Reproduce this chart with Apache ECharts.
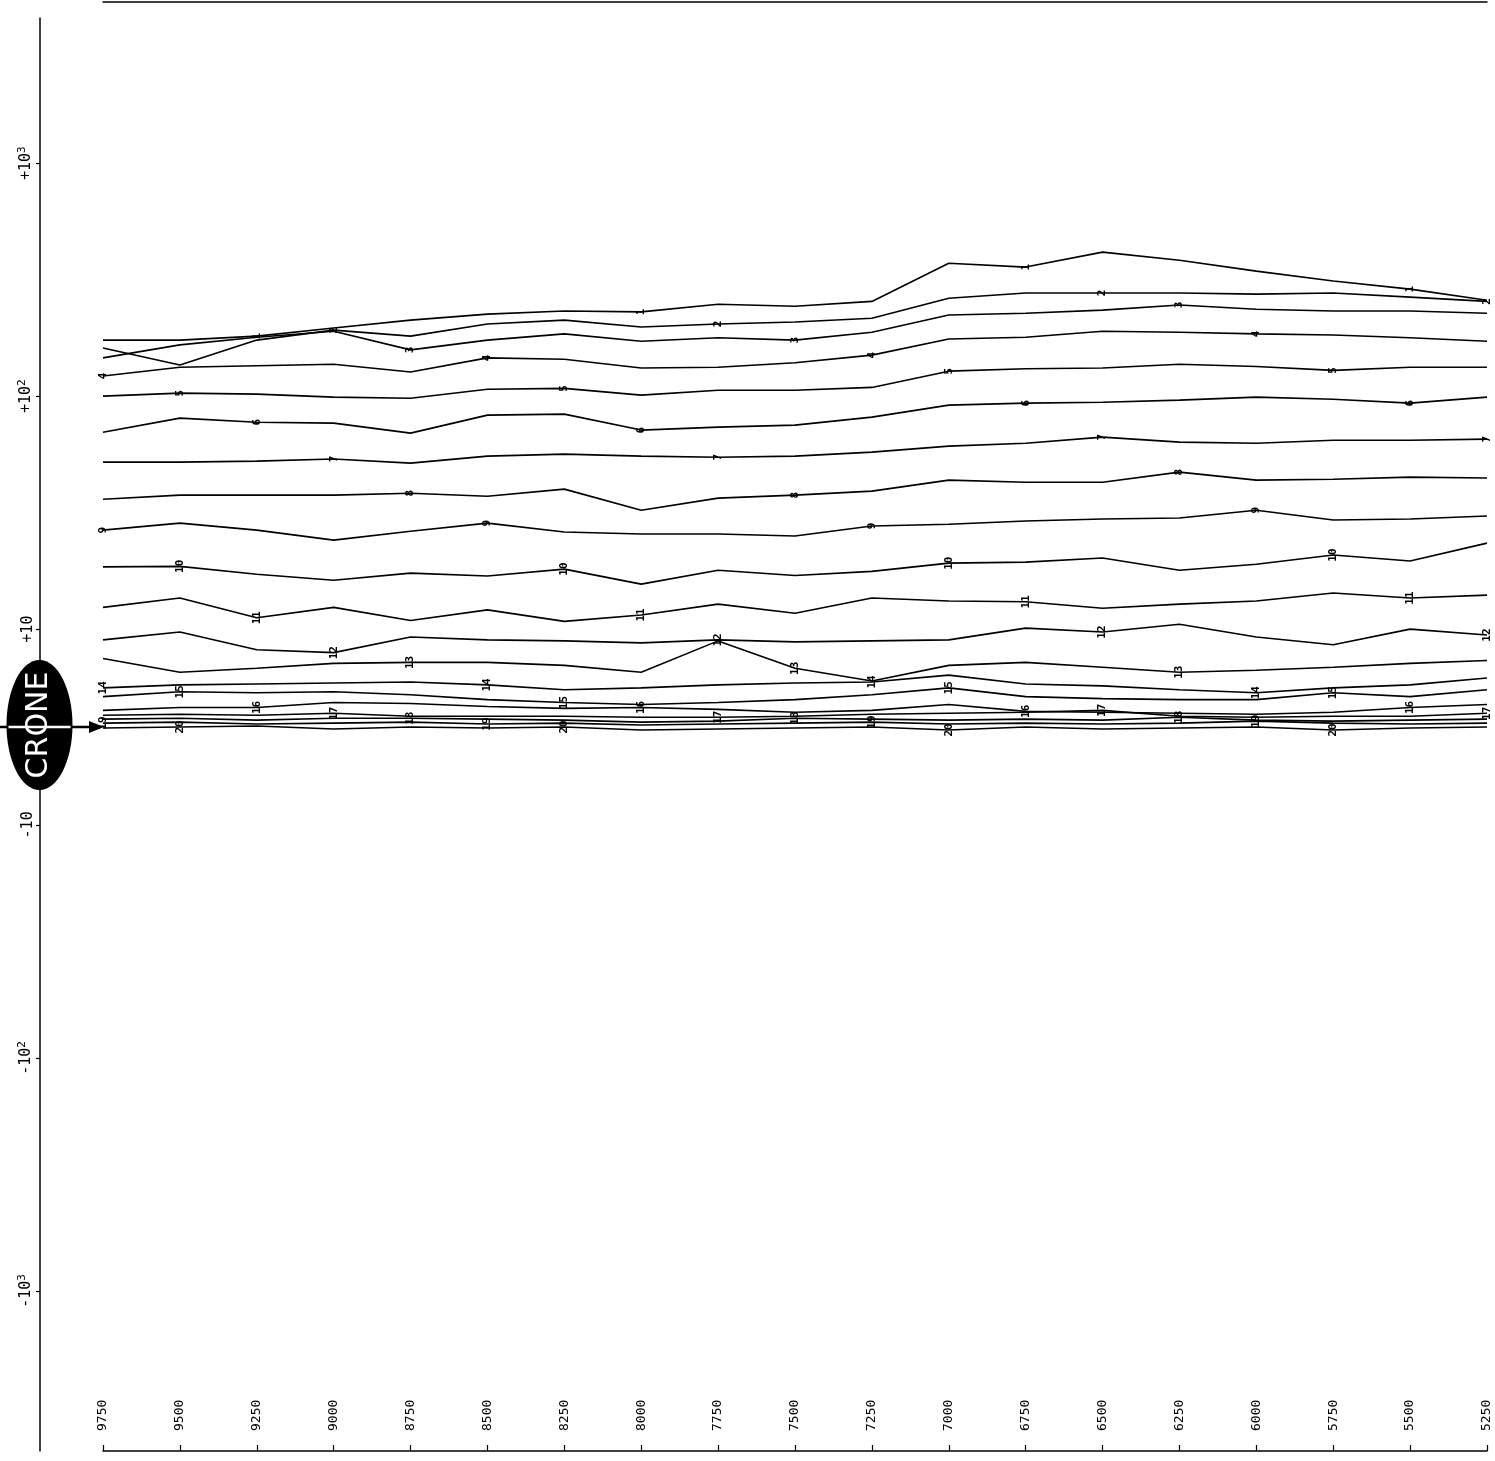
<!DOCTYPE html>
<html>
<head>
<meta charset="utf-8">
<script src="https://cdn.jsdelivr.net/npm/echarts@6/dist/echarts.min.js"></script>
<style>
  html, body { margin: 0; padding: 0; background: #fff; }
  #chart { width: 1495px; height: 1461px; }
</style>
</head>
<body>
<div id="chart"></div>
<script>
// Sample positions along the horizontal axis
const categories = ['9750', '9500', '9250', '9000', '8750', '8500', '8250', '8000', '7750', '7500',
                    '7250', '7000', '6750', '6500', '6250', '6000', '5750', '5500', '5250'];

// Vertical axis ticks (symmetric log scale) and their labels
const yTickValues = [1000, 100, 10, -10, -100, -1000];
const yTickLabels = ['+10{s|3}', '+10{s|2}', '+10', '-10', '-10{s|2}', '-10{s|3}'];

// One curve per numbered trace
const s1  = [174, 174, 181, 196, 212, 225, 232, 230, 248, 243, 255, 372, 358, 415, 383, 344, 312, 288, 258];
const s2  = [161, 136, 174, 192, 181, 204, 212, 198, 204, 208, 216, 263, 277, 277, 277, 274, 277, 266, 255];
const s3  = [146, 166, 179, 190, 158, 174, 185, 172, 178, 174, 188, 223, 227, 234, 246, 236, 232, 232, 227];
const s4  = [122, 133, 135, 137, 127, 146, 144, 132, 133, 139, 150, 176, 179, 190, 188, 185, 183, 178, 172];
const s5  = [100, 103, 102, 99, 98, 107, 108, 101, 106, 106, 109, 128, 131, 132, 137, 134, 129, 133, 133];
const s6  = [70, 80.5, 77.3, 76.6, 69.4, 82.9, 83.7, 71.5, 73.6, 75.1, 81.3, 91.5, 93.3, 94.2, 96.1, 99, 97, 93.3, 99];
const s7  = [52.1, 52.1, 52.6, 53.7, 51.6, 55.3, 56.4, 55.3, 54.7, 55.3, 57.5, 61, 62.8, 66.7, 63.5, 62.8, 64.7, 64.7, 65.4];
const s8  = [36.1, 37.6, 37.6, 37.6, 38.3, 37.2, 39.9, 32.4, 36.5, 37.6, 39.1, 43.6, 42.7, 42.7, 47.2, 43.6, 44, 44.9, 44.5];
const s9  = [26.6, 28.5, 26.6, 24.1, 26.3, 28.5, 26.1, 25.6, 25.6, 25.1, 27.7, 28.2, 29.1, 29.7, 30, 32.4, 29.4, 29.7, 30.6];
const s10 = [18.5, 18.6, 17.2, 16.2, 17.4, 16.9, 18.1, 15.6, 17.9, 17, 17.7, 19.2, 19.4, 20.2, 17.9, 19, 20.8, 19.6, 23.4];
const s11 = [12.4, 13.6, 11.2, 12.4, 10.9, 12.1, 10.8, 11.5, 12.8, 11.7, 13.6, 13.2, 13.1, 12.3, 12.8, 13.2, 14.3, 13.6, 14];
const s12 = [8.9, 9.7, 7.9, 7.6, 9.2, 8.9, 8.8, 8.6, 8.9, 8.7, 8.8, 8.9, 10.1, 9.7, 10.5, 9.2, 8.4, 10, 9.4];
const s13 = [7, 5.6, 6, 6.5, 6.6, 6.6, 6.3, 5.6, 8.8, 6, 4.7, 6.3, 6.6, 6.1, 5.6, 5.8, 6.1, 6.5, 6.8];
const s14 = [4, 4.3, 4.4, 4.5, 4.6, 4.3, 3.8, 4, 4.3, 4.5, 4.6, 5.3, 4.4, 4.2, 3.8, 3.5, 4, 4.3, 5];
const s15 = [3.1, 3.6, 3.5, 3.6, 3.3, 2.8, 2.5, 2.3, 2.5, 2.8, 3.3, 4, 3.1, 2.9, 2.8, 2.8, 3.5, 3.1, 3.8];
const s16 = [1.7, 2, 2, 2.5, 2.4, 2.1, 1.9, 2, 1.8, 1.5, 1.7, 2.3, 1.6, 1.5, 1.4, 1.3, 1.5, 2, 2.3];
const s17 = [1.2, 1.3, 1.2, 1.4, 1.1, 1.1, 1.1, 1.0, 1.0, 1.1, 1.3, 1.4, 1.5, 1.7, 1.1, 1.0, 1.1, 1.1, 1.4];
const s18 = [0.8, 0.9, 0.7, 0.9, 0.9, 0.8, 0.7, 0.5, 0.6, 0.9, 0.8, 0.7, 0.8, 0.7, 1.0, 0.7, 0.6, 0.7, 0.8];
const s19 = [0.4, 0.5, 0.3, 0.4, 0.5, 0.3, 0.4, 0.2, 0.3, 0.4, 0.5, 0.3, 0.4, 0.3, 0.4, 0.6, 0.4, 0.3, 0.4];
const s20 = [-0.1, 0, 0.1, -0.2, 0, -0.1, 0, -0.3, -0.2, -0.1, 0, -0.3, 0, -0.2, -0.1, 0, -0.3, -0.1, 0];

const traces = [s1, s2, s3, s4, s5, s6, s7, s8, s9, s10, s11, s12, s13, s14, s15, s16, s17, s18, s19, s20];

// Symmetric log transform: linear inside |v| < 10, one decade per unit beyond
const LIN = 0.42;
function sym(v) {
  const a = Math.abs(v);
  const t = a < 10 ? LIN * a / 10 : LIN + Math.log10(a / 10);
  return v < 0 ? -t : t;
}

const chart = echarts.init(document.getElementById('chart'), null, { renderer: 'canvas' });

// Each trace carries its number every fifth sample, staggered from trace to trace
const series = traces.map((vals, k) => {
  const n = k + 1;
  return {
    name: String(n),
    type: 'line',
    symbol: 'circle',
    symbolSize: 1,
    showSymbol: true,
    itemStyle: { color: 'rgba(0,0,0,0)' },
    lineStyle: { color: '#000', width: 1.6 },
    clip: true,
    z: 3,
    data: vals.map((v, i) => ({
      value: sym(v),
      label: {
        show: (((i - (n + 1)) % 5) + 5) % 5 === 0,
        formatter: String(n),
        position: 'inside',
        rotate: 90,
        align: 'center',
        verticalAlign: 'middle',
        color: '#000',
        fontSize: 11,
        fontWeight: 'bold',
        fontFamily: 'DejaVu Sans Mono'
      }
    }))
  };
});

const option = {
  animation: false,
  backgroundColor: '#fff',
  grid: { left: 103, right: 8, top: 18, bottom: 10 },
  xAxis: [{
    type: 'category',
    data: categories,
    boundaryGap: false,
    axisLine: { onZero: false, lineStyle: { color: '#000', width: 1.5 } },
    axisTick: { inside: true, length: 6, lineStyle: { color: '#000', width: 1.2 } },
    axisLabel: {
      inside: true,
      rotate: 90,
      margin: 20,
      color: '#000',
      fontSize: 13,
      fontFamily: 'DejaVu Sans Mono'
    },
    splitLine: { show: false }
  }, {
    type: 'category',
    data: categories,
    boundaryGap: false,
    position: 'top',
    offset: 16,
    axisLine: { onZero: false, lineStyle: { color: '#000', width: 1.5 } },
    axisTick: { show: false },
    axisLabel: { show: false },
    splitLine: { show: false }
  }],
  yAxis: {
    type: 'value',
    min: -(1451 - 727) / 233,
    max: (727 - 18) / 233,
    offset: 63,
    axisLine: { show: true, onZero: false, lineStyle: { color: '#000', width: 1.5 } },
    axisTick: {
      show: true, length: 4,
      lineStyle: { color: '#000', width: 1.2 },
      customValues: yTickValues.map(sym)
    },
    axisLabel: {
      rotate: 90,
      margin: 4,
      color: '#000',
      fontSize: 15,
      fontFamily: 'DejaVu Sans Mono',
      customValues: yTickValues.map(sym),
      formatter: (val) => {
        let best = 0;
        yTickValues.forEach((tv, j) => {
          if (Math.abs(sym(tv) - val) < Math.abs(sym(yTickValues[best]) - val)) best = j;
        });
        return yTickLabels[best];
      },
      rich: { s: { fontSize: 11, fontFamily: 'DejaVu Sans Mono', padding: [0, 0, 8, 0] } }
    },
    splitLine: { show: false }
  },
  series: series
};

chart.setOption(option);

// Zero-line arrow and the badge at the origin
const zeroY = chart.convertToPixel({ yAxisIndex: 0 }, 0);
const x0 = chart.convertToPixel({ xAxisIndex: 0 }, categories[0]);
const cx = 39.5, cy = zeroY - 2;
chart.setOption({
  graphic: [
    { type: 'line', z: 10, shape: { x1: 0, y1: zeroY, x2: x0 - 4, y2: zeroY }, style: { stroke: '#000', lineWidth: 2.5 } },
    { type: 'polygon', z: 10, shape: { points: [[x0 - 14, zeroY - 6], [x0 + 1, zeroY], [x0 - 14, zeroY + 6]] }, style: { fill: '#000' } },
    { type: 'ellipse', z: 11, shape: { cx: cx, cy: cy, rx: 33, ry: 65 }, style: { fill: '#000' } },
    { type: 'line', z: 12, shape: { x1: cx - 31, y1: zeroY, x2: cx + 31, y2: zeroY }, style: { stroke: '#fff', lineWidth: 2.5 } },
    { type: 'text', z: 13, x: cx, y: cy, rotation: Math.PI / 2,
      style: { text: 'CRONE', fill: '#fff', font: '30px "DejaVu Sans"', align: 'center', verticalAlign: 'middle' } }
  ]
});
</script>
</body>
</html>
